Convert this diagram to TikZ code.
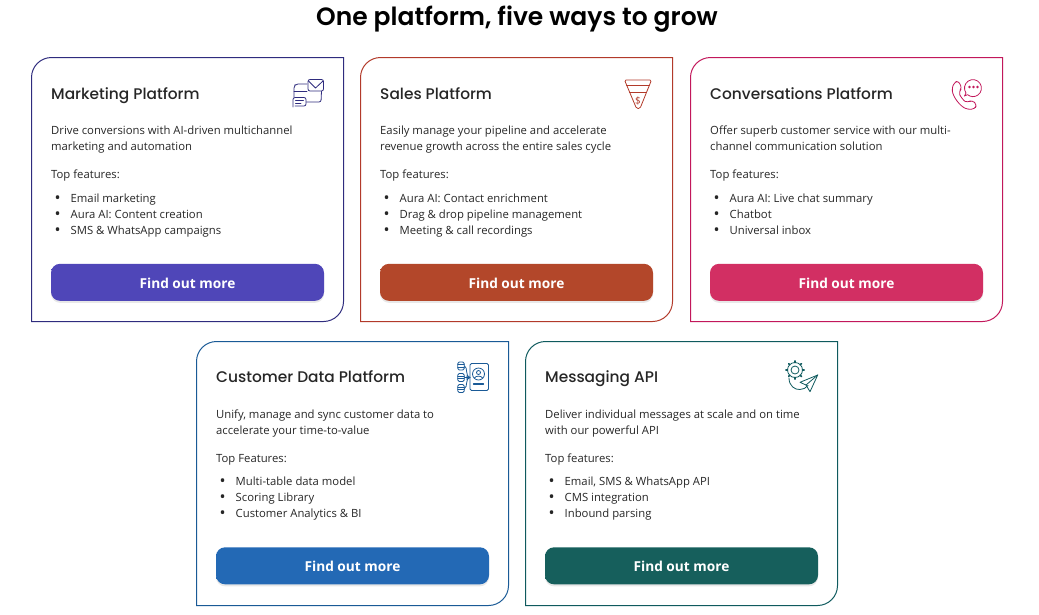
\documentclass[tikz,border=0pt]{standalone}
\usepackage{fontspec}
\setmainfont{Open Sans}
\newfontfamily\titlefont{Poppins SemiBold}
\newfontfamily\headfont{Poppins Medium}
\usepackage{tikz}
\usetikzlibrary{positioning,shadows}

\definecolor{mktcol}{HTML}{4F46B8}
\definecolor{salcol}{HTML}{B3472A}
\definecolor{concol}{HTML}{D22F63}
\definecolor{cdpcol}{HTML}{2369B5}
\definecolor{apicol}{HTML}{165F5C}
\definecolor{mktline}{HTML}{2F2C7E}
\definecolor{salline}{HTML}{B23A2A}
\definecolor{conline}{HTML}{C2185B}
\definecolor{cdpline}{HTML}{1A5A96}
\definecolor{apiline}{HTML}{0F5A5E}

% buttons are flat, with a lighter top edge and a darker bottom edge
\newcommand{\btnshade}[1]{
  \pgfdeclareverticalshading{#1shade}{100bp}{color(0bp)=(#1col!82!black); color(9bp)=(#1col);
    color(88bp)=(#1col); color(100bp)=(#1col!80!white)}
}
\btnshade{mkt}
\btnshade{sal}
\btnshade{con}
\btnshade{cdp}
\btnshade{api}

\tikzset{
  card/.style={minimum width=312pt,minimum height=264pt,inner sep=0pt,outer sep=0pt},
  head/.style={inner sep=0pt,font=\headfont\fontsize{15.4}{18}\selectfont,text=black!85},
  body/.style={inner sep=0pt,align=left,font=\fontsize{11.3}{16}\selectfont,text=black!85},
  button/.style={minimum width=273pt,minimum height=37pt,inner sep=0pt,rounded corners=9pt,
    drop shadow={opacity=.18,shadow xshift=0pt,shadow yshift=-2pt},
    shade,shading=#1shade,text height=12pt,text depth=0pt,
    text=white,font=\bfseries\fontsize{13.7}{16}\selectfont},
  icon/.style={line width=.8pt,line join=round,line cap=round}
}
\newcommand{\cardedge}[2]{
  \draw[#2,line width=1pt] (#1.north east) -- ([yshift=20pt]#1.south east)
    arc[start angle=0,end angle=-90,radius=20pt] -- (#1.south west)
    -- ([yshift=-20pt]#1.north west) arc[start angle=180,end angle=90,radius=20pt] -- cycle;
}
\newcommand{\itm}[1]{\makebox[15pt][l]{\hspace{-1.2pt}\raisebox{-1.2pt}{\fontsize{16}{16}\selectfont\textbullet}}#1}

\begin{document}
\begin{tikzpicture}[x=1pt,y=-1pt]
  \useasboundingbox (0,0) rectangle (1039,614);

  \node[font=\titlefont\fontsize{25}{30}\selectfont,inner sep=0pt] (title) at (517,19) {One platform, five ways to grow};

  % top row
  \node[card] (mkt) at (187.5,189.5) {};
  \cardedge{mkt}{mktline}
  \node[head] (mkthead) [below right=42pt and 19.5pt of mkt.north west,anchor=base west] {Marketing Platform};
  \node[body] (mktdesc) [below=50.5pt of mkthead.base west,anchor=base west] {Drive conversions with AI-driven multichannel\\marketing and automation};
  \node[body] (mkttop) [below=28.5pt of mktdesc.base west,anchor=base west] {Top features:};
  \node[body] (mktlist) [below right=55.5pt and 4.5pt of mkttop.base west,anchor=base west] {\itm{Email marketing}\\\itm{Aura AI: Content creation}\\\itm{SMS \& WhatsApp campaigns}};
  \node[button=mkt] (mktbtn) [above=20.5pt of mkt.south] {Find out more};

  \node[card] (sal) [right=17pt of mkt] {};
  \cardedge{sal}{salline}
  \node[head] (salhead) [below right=42pt and 19.5pt of sal.north west,anchor=base west] {Sales Platform};
  \node[body] (saldesc) [below=50.5pt of salhead.base west,anchor=base west] {Easily manage your pipeline and accelerate\\revenue growth across the entire sales cycle};
  \node[body] (saltop) [below=28.5pt of saldesc.base west,anchor=base west] {Top features:};
  \node[body] (sallist) [below right=55.5pt and 4.5pt of saltop.base west,anchor=base west] {\itm{Aura AI: Contact enrichment}\\\itm{Drag \& drop pipeline management}\\\itm{Meeting \& call recordings}};
  \node[button=sal] (salbtn) [above=20.5pt of sal.south] {Find out more};

  \node[card] (con) [right=18pt of sal] {};
  \cardedge{con}{conline}
  \node[head] (conhead) [below right=42pt and 19.5pt of con.north west,anchor=base west] {Conversations Platform};
  \node[body] (condesc) [below=50.5pt of conhead.base west,anchor=base west] {Offer superb customer service with our multi-\\channel communication solution};
  \node[body] (contop) [below=28.5pt of condesc.base west,anchor=base west] {Top features:};
  \node[body] (conlist) [below right=55.5pt and 4.5pt of contop.base west,anchor=base west] {\itm{Aura AI: Live chat summary}\\\itm{Chatbot}\\\itm{Universal inbox}};
  \node[button=con] (conbtn) [above=20.5pt of con.south] {Find out more};

  % bottom row
  \node[card] (cdp) at (352.5,473.5) {};
  \cardedge{cdp}{cdpline}
  \node[head] (cdphead) [below right=41pt and 19.5pt of cdp.north west,anchor=base west] {Customer Data Platform};
  \node[body] (cdpdesc) [below=51.5pt of cdphead.base west,anchor=base west] {Unify, manage and sync customer data to\\accelerate your time-to-value};
  \node[body] (cdptop) [below=28.5pt of cdpdesc.base west,anchor=base west] {Top Features:};
  \node[body] (cdplist) [below right=54.5pt and 4.5pt of cdptop.base west,anchor=base west] {\itm{Multi-table data model}\\\itm{Scoring Library}\\\itm{Customer Analytics \& BI}};
  \node[button=cdp] (cdpbtn) [above=21pt of cdp.south] {Find out more};

  \node[card] (api) [right=17pt of cdp] {};
  \cardedge{api}{apiline}
  \node[head] (apihead) [below right=41pt and 19.5pt of api.north west,anchor=base west] {Messaging API};
  \node[body] (apidesc) [below=51.5pt of apihead.base west,anchor=base west] {Deliver individual messages at scale and on time\\with our powerful API};
  \node[body] (apitop) [below=28.5pt of apidesc.base west,anchor=base west] {Top features:};
  \node[body] (apilist) [below right=54.5pt and 4.5pt of apitop.base west,anchor=base west] {\itm{Email, SMS \& WhatsApp API}\\\itm{CMS integration}\\\itm{Inbound parsing}};
  \node[button=api] (apibtn) [above=21pt of api.south] {Find out more};

  % icons
  \begin{scope}[icon,mktline]
    \draw[rounded corners=2pt] (307,84) -- (296,84) -- (294,86) -- (294,97);
    \draw[rounded corners=2pt] (306,102) -- (321,102) -- (321.5,91);
    \draw (294,91) -- (307,91);
    \draw[rounded corners=2pt,fill=white] (308,79.5) rectangle (323.5,91);
    \draw (308.5,81) -- (315.5,88) -- (323,81);
    \draw[rounded corners=2pt,fill=white] (293,107) -- (293,97.5) -- (306,97.5) -- (306,106) -- (295,106);
    \draw (295.5,100.5) -- (303.5,100.5) (295.5,103) -- (301,103);
  \end{scope}
  \begin{scope}[icon,salline]
    \draw[rounded corners=1.5pt] (624.5,80) -- (651.5,80) -- (640,108.5) -- (636.5,108.5) -- cycle;
    \draw (626.5,85) -- (649.5,85) (629.5,92) -- (646.5,92);
    \node[inner sep=0pt,font=\fontsize{10}{10}\selectfont,text=salline] (salicon) at (638,100.5) {\$};
  \end{scope}
  \begin{scope}[icon,conline]
    \draw[rounded corners=3pt] (954,83) -- (958,80.5) -- (962,88) -- (959,91.5) .. controls (960,96) and (964,101) .. (968,102.5) -- (972,100) -- (977,105) -- (974.5,109) -- (968,109.5) .. controls (960,106) and (953,97) .. (952,88) -- cycle;
    \draw (966,93) arc[start angle=215,end angle=-130,radius=8.5pt] -- (964.5,96) -- cycle;
    \fill (969.5,87) circle (1.3pt) (973.5,87) circle (1.3pt) (977.5,87) circle (1.3pt);
  \end{scope}
  \begin{scope}[icon,cdpline]
    \draw[rounded corners=1.5pt] (470,363.5) rectangle (488.5,390.5);
    \draw (478.5,374) circle (6pt);
    \draw (478.5,372.5) circle (2pt);
    \draw (474.5,378) .. controls (475.5,375.5) and (481.5,375.5) .. (482.5,378);
    \draw[line width=1.2pt] (473.5,384) -- (483.5,384);
    \foreach \cy in {366,377.5,388.5} {
      \draw[rounded corners=1.5pt] (457.8,\cy-4) rectangle (464.2,\cy+4);
      \draw (457.8,\cy-1.3) -- (464.2,\cy-1.3) (457.8,\cy+1.3) -- (464.2,\cy+1.3);
    }
    \draw (464.5,366) .. controls (468,367) and (465,377) .. (470,377.5);
    \draw[-stealth] (464.5,377.5) -- (470,377.5);
    \draw (464.5,388.5) .. controls (468,387) and (465,378) .. (470,377.5);
  \end{scope}
  \begin{scope}[icon,apiline]
    \draw (795,370) circle (4pt);
    \draw (795,370) circle (7.5pt);
    \foreach \ang in {0,45,...,315} {
      \draw[line width=1.6pt] (795,370) ++(\ang:7.5pt) -- ++(\ang:1.6pt);
    }
    \draw (789,378) .. controls (789,386) and (795,390) .. (800,389.5) .. controls (803,389.5) and (806,388) .. (808,385.5);
    \draw (817.7,375) -- (800,382.3) -- (806,385) -- (810,391.7) -- cycle;
    \draw (806,385) -- (817.7,375);
  \end{scope}
\end{tikzpicture}
\end{document}
